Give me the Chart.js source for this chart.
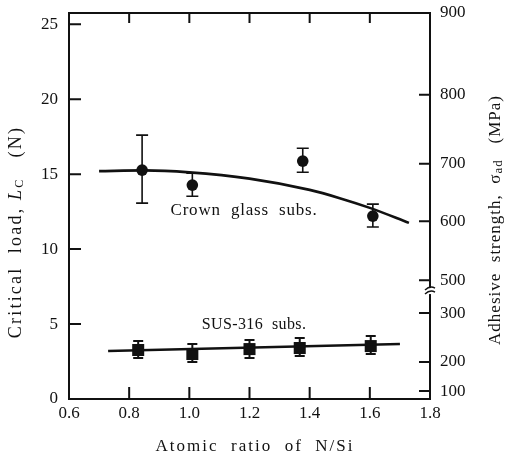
<!DOCTYPE html>
<html>
<head>
<meta charset="utf-8">
<script src="https://cdn.jsdelivr.net/npm/chart.js@4/dist/chart.umd.min.js"></script>
<style>
  html, body { margin: 0; padding: 0; background: #fff; }
  #wrap { width: 508px; height: 461px; }
</style>
</head>
<body>
<div id="wrap"><canvas id="myChart" width="508" height="461"></canvas></div>
<script>
// data
const xTicks = [0.6, 0.8, 1.0, 1.2, 1.4, 1.6, 1.8];
const yTicks = [0, 5, 10, 15, 20, 25];
// right axis labels and the left-axis value each one sits at
const rightLabels = ["900", "800", "700", "600", "500", "300", "200", "100"];
const rightAt = [25.75, 20.3, 15.7, 11.85, 7.93, 5.73, 2.47, 0.53];

const crownX = [0.843, 1.01, 1.377, 1.61];
const crownY = [15.27, 14.27, 15.87, 12.2];
const crownLow = [13.07, 13.53, 15.13, 11.47];
const crownHigh = [17.6, 15.07, 16.73, 13.0];

const susX = [0.83, 1.01, 1.2, 1.367, 1.603];
const susY = [3.27, 3.0, 3.33, 3.4, 3.53];
const susLow = [2.73, 2.47, 2.73, 2.87, 3.0];
const susHigh = [3.87, 3.67, 3.93, 4.07, 4.2];

const crownFitX = [0.70, 0.85, 1.0, 1.2, 1.4, 1.5, 1.6, 1.73];
const crownFitY = [15.2, 15.25, 15.12, 14.7, 13.95, 13.4, 12.75, 11.75];
const susFitX = [0.73, 1.70];
const susFitY = [3.2, 3.67];

const serif = '"Liberation Serif", "DejaVu Serif", serif';

function pts(xs, ys) {
  return xs.map((x, i) => ({ x: x, y: ys[i] }));
}

// draws a line of text made of runs, centred on (cx, cy)
function drawRuns(ctx, runs, cx, cy, spacing) {
  ctx.save();
  ctx.letterSpacing = spacing + "px";
  let total = 0;
  runs.forEach(r => { ctx.font = r.font; r.w = ctx.measureText(r.text).width; total += r.w; });
  let x = cx - total / 2;
  ctx.textBaseline = "middle";
  ctx.textAlign = "left";
  runs.forEach(r => {
    ctx.font = r.font;
    ctx.fillText(r.text, x, cy + (r.dy || 0));
    x += r.w;
  });
  ctx.restore();
}

// stop chart.js reserving room for labels that hang past the ends
function noOverhang(s) {
  s.paddingTop = 0; s.paddingBottom = 0; s.paddingLeft = 0; s.paddingRight = 0;
}

const decor = {
  id: "decor",
  beforeDatasetsDraw(chart) {
    const ctx = chart.ctx;
    const xs = chart.scales.x, ys = chart.scales.y;
    ctx.save();
    ctx.strokeStyle = "#111";
    ctx.lineWidth = 1.6;
    function bars(xv, lo, hi, cap) {
      xv.forEach((v, i) => {
        const px = xs.getPixelForValue(v);
        const p1 = ys.getPixelForValue(lo[i]);
        const p2 = ys.getPixelForValue(hi[i]);
        ctx.beginPath();
        ctx.moveTo(px, p1); ctx.lineTo(px, p2);
        ctx.moveTo(px - cap, p1); ctx.lineTo(px + cap, p1);
        ctx.moveTo(px - cap, p2); ctx.lineTo(px + cap, p2);
        ctx.stroke();
      });
    }
    bars(crownX, crownLow, crownHigh, 6);
    ctx.lineWidth = 2;
    bars(susX, susLow, susHigh, 5);
    ctx.restore();
  },
  afterDraw(chart) {
    const ctx = chart.ctx;
    const a = chart.chartArea;
    const xs = chart.scales.x, ys = chart.scales.y;
    ctx.save();
    ctx.strokeStyle = "#111";
    ctx.lineWidth = 2;
    ctx.strokeRect(a.left, a.top, a.right - a.left, a.bottom - a.top);

    // inward ticks
    ctx.beginPath();
    xTicks.slice(1, -1).forEach(v => {
      const px = xs.getPixelForValue(v);
      ctx.moveTo(px, a.bottom); ctx.lineTo(px, a.bottom - 12);
      ctx.moveTo(px, a.top); ctx.lineTo(px, a.top + 10);
    });
    yTicks.slice(1).forEach(v => {
      const py = ys.getPixelForValue(v);
      ctx.moveTo(a.left, py); ctx.lineTo(a.left + 12, py);
    });
    rightAt.slice(1).forEach(v => {
      const py = ys.getPixelForValue(v);
      ctx.moveTo(a.right, py); ctx.lineTo(a.right - 11, py);
    });
    ctx.stroke();

    // axis break between 500 and 300
    const yb = ys.getPixelForValue(7.2);
    ctx.fillStyle = "#fff";
    ctx.fillRect(a.right - 2, yb - 3, 4, 6);
    ctx.lineWidth = 1.4;
    ctx.beginPath();
    ctx.moveTo(a.right - 5, yb - 1); ctx.quadraticCurveTo(a.right, yb - 6, a.right + 5, yb - 3);
    ctx.moveTo(a.right - 5, yb + 3); ctx.quadraticCurveTo(a.right, yb - 2, a.right + 5, yb + 1);
    ctx.stroke();

    ctx.fillStyle = "#111";
    // labels in the plot
    drawRuns(ctx, [{ text: "Crown  glass  subs.", font: "17px " + serif }], 244, 211, 0.8);
    drawRuns(ctx, [{ text: "SUS-316  subs.", font: "16px " + serif }], 254, 325, 0.4);

    // x title
    drawRuns(ctx, [{ text: "Atomic  ratio  of  N/Si", font: "17px " + serif }], 255, 447, 2);

    // left title
    ctx.save();
    ctx.translate(16, 232);
    ctx.rotate(-Math.PI / 2);
    drawRuns(ctx, [
      { text: "Critical  load, ", font: "18px " + serif },
      { text: "L", font: "italic 18px " + serif },
      { text: "C", font: "12px " + serif, dy: 4 },
      { text: "   (N)", font: "18px " + serif }
    ], 0, 0, 2.2);
    ctx.restore();

    // right title
    ctx.save();
    ctx.translate(496, 220);
    ctx.rotate(-Math.PI / 2);
    drawRuns(ctx, [
      { text: "Adhesive  strength,  ", font: "17px " + serif },
      { text: "σ", font: "17px " + serif },
      { text: "ad", font: "13px " + serif, dy: 3 },
      { text: "   (MPa)", font: "17px " + serif }
    ], 0, 0, 1.0);
    ctx.restore();

    ctx.restore();
  }
};

const ctx = document.getElementById("myChart").getContext("2d");
new Chart(ctx, {
  type: "scatter",
  data: {
    datasets: [
      {
        label: "Crown fit",
        data: pts(crownFitX, crownFitY),
        showLine: true,
        borderColor: "#111",
        borderWidth: 2.6,
        pointRadius: 0,
        cubicInterpolationMode: "monotone",
        yAxisID: "y"
      },
      {
        label: "SUS fit",
        data: pts(susFitX, susFitY),
        showLine: true,
        borderColor: "#111",
        borderWidth: 2.6,
        pointRadius: 0,
        yAxisID: "y"
      },
      {
        label: "Crown glass subs.",
        data: pts(crownX, crownY),
        pointStyle: "circle",
        pointRadius: 5.8,
        backgroundColor: "#111",
        borderColor: "#111",
        borderWidth: 0,
        yAxisID: "y"
      },
      {
        label: "SUS-316 subs.",
        data: pts(susX, susY),
        pointStyle: "rect",
        pointRadius: 8.5,
        backgroundColor: "#111",
        borderColor: "#111",
        borderWidth: 0,
        yAxisID: "y"
      }
    ]
  },
  options: {
    responsive: false,
    animation: false,
    events: [],
    layout: { padding: { top: 13, left: 0, right: 0, bottom: 0 } },
    plugins: { legend: { display: false }, tooltip: { enabled: false } },
    scales: {
      x: {
        type: "linear",
        min: 0.6,
        max: 1.8,
        afterBuildTicks: s => { s.ticks = xTicks.map(v => ({ value: v })); },
        afterFit: s => { s.height = 62; noOverhang(s); },
        grid: { display: false, drawTicks: false },
        border: { display: false },
        ticks: {
          padding: 4,
          color: "#111",
          font: { family: serif, size: 17 },
          callback: v => v.toFixed(1)
        }
      },
      y: {
        type: "linear",
        position: "left",
        min: 0,
        max: 25.75,
        afterBuildTicks: s => { s.ticks = yTicks.map(v => ({ value: v })); },
        afterFit: s => { s.width = 69; noOverhang(s); },
        grid: { display: false, drawTicks: false },
        border: { display: false },
        ticks: { padding: 11, color: "#111", font: { family: serif, size: 17 } }
      },
      y2: {
        type: "linear",
        position: "right",
        min: 0,
        max: 25.75,
        afterBuildTicks: s => { s.ticks = rightAt.map(v => ({ value: v })); },
        afterFit: s => { s.width = 78; noOverhang(s); },
        grid: { display: false, drawTicks: false },
        border: { display: false },
        ticks: {
          padding: 10,
          color: "#111",
          font: { family: serif, size: 17 },
          callback: (v, i) => rightLabels[i]
        }
      }
    }
  },
  plugins: [decor]
});
</script>
</body>
</html>
